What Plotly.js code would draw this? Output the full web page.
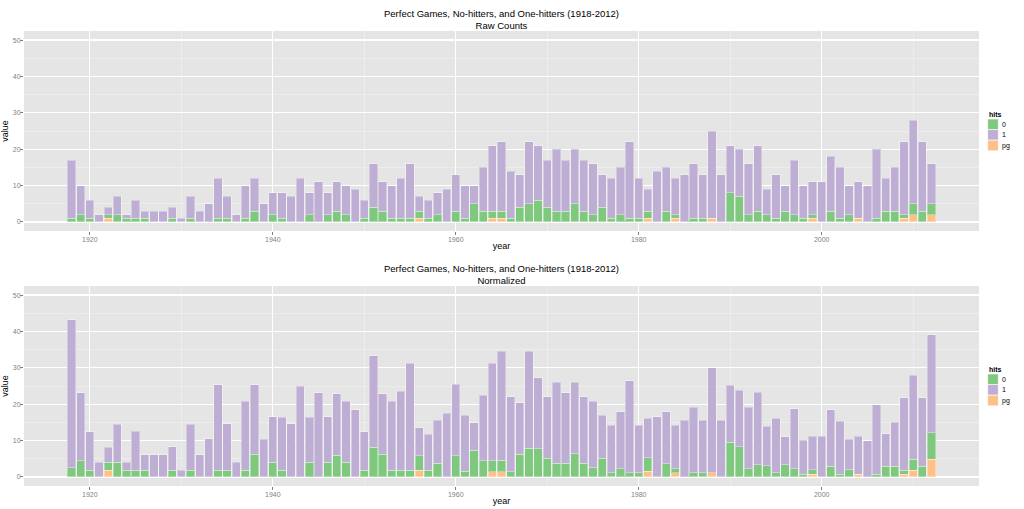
<!DOCTYPE html>
<html>
<head>
<meta charset="utf-8">
<script src="https://cdn.plot.ly/plotly-3.0.1.min.js"></script>
<style>
  html, body { margin: 0; padding: 0; background: #fff; }
  #chart { width: 1024px; height: 509px; }
</style>
</head>
<body>
<div id="chart"></div>
<script>
"use strict";

// years 1918..2012
const years = Array.from({ length: 95 }, (_, i) => 1918 + i);

// --- raw counts, one value per year ---
const rawZero = [
  1, 2, 1, 0, 1, 2, 1, 1, 1, 0, 0, 1, 0, 1, 0, 0, 1, 1, 0, 1,
  3, 0, 2, 1, 0, 0, 2, 0, 2, 3, 2, 0, 1, 4, 3, 1, 1, 1, 2, 1,
  2, 0, 3, 1, 5, 3, 2, 2, 1, 4, 5, 6, 4, 3, 3, 5, 3, 2, 4, 1,
  2, 1, 1, 2, 0, 3, 1, 0, 1, 1, 0, 0, 8, 7, 2, 3, 2, 1, 3, 2,
  1, 1, 0, 3, 1, 2, 0, 0, 1, 3, 3, 1, 3, 3, 3
];
const rawOne = [
  16, 8, 5, 2, 2, 5, 1, 5, 2, 3, 3, 3, 1, 6, 3, 5, 11, 6, 2, 9,
  9, 5, 6, 7, 7, 12, 6, 11, 6, 8, 8, 9, 5, 12, 8, 9, 11, 15, 4, 5,
  6, 9, 10, 9, 5, 12, 18, 19, 13, 9, 17, 15, 13, 17, 14, 15, 14, 14, 9, 11,
  13, 21, 11, 6, 14, 12, 10, 13, 15, 12, 24, 13, 13, 13, 14, 18, 7, 12, 7, 15,
  9, 9, 11, 15, 14, 8, 10, 10, 19, 9, 12, 20, 23, 19, 11
];
const rawPg = [
  0, 0, 0, 0, 1, 0, 0, 0, 0, 0, 0, 0, 0, 0, 0, 0, 0, 0, 0, 0,
  0, 0, 0, 0, 0, 0, 0, 0, 0, 0, 0, 0, 0, 0, 0, 0, 0, 0, 1, 0,
  0, 0, 0, 0, 0, 0, 1, 1, 0, 0, 0, 0, 0, 0, 0, 0, 0, 0, 0, 0,
  0, 0, 0, 1, 0, 0, 1, 0, 0, 0, 1, 0, 0, 0, 0, 0, 0, 0, 0, 0,
  0, 1, 0, 0, 0, 0, 1, 0, 0, 0, 0, 1, 2, 0, 2
];

// --- normalized values, one value per year ---
const normZero = [
  2.5, 4.5, 1.9, 0, 2.1, 4.0, 1.9, 1.9, 1.9, 0, 0, 1.9, 0, 1.9, 0, 0, 1.9, 1.9, 0, 1.9,
  6.2, 0, 4.0, 1.9, 0, 0, 4.0, 0, 4.0, 6.0, 4.0, 0, 1.9, 8.2, 6.2, 1.9, 1.9, 1.9, 3.9, 1.9,
  3.8, 0, 5.8, 1.6, 7.3, 4.4, 3.0, 3.2, 1.4, 6.2, 7.9, 7.8, 5.1, 3.8, 3.8, 6.4, 3.8, 2.5, 5.1, 1.1,
  2.2, 1.1, 1.1, 3.7, 0, 3.6, 1.2, 0, 1.1, 1.1, 0, 0, 9.5, 8.3, 2.3, 3.3, 3.1, 1.1, 3.3, 2.2,
  0.8, 1.2, 0, 3.0, 0.8, 2.0, 0, 0, 0.8, 2.9, 2.9, 1.1, 3.0, 2.9, 7.2
];
const normOne = [
  40.7, 18.6, 10.5, 4.0, 4.2, 10.5, 2.1, 10.7, 4.2, 6.1, 6.1, 6.4, 1.9, 12.6, 6.1, 10.5, 23.5, 12.7, 4.0, 18.9,
  19.2, 10.4, 12.6, 14.5, 14.6, 25.0, 12.4, 23.1, 12.6, 16.9, 16.8, 18.5, 10.5, 25.1, 16.7, 18.9, 21.6, 29.4, 7.7, 9.8,
  11.8, 17.5, 19.7, 15.3, 7.6, 18.0, 26.8, 29.9, 20.7, 14.2, 26.6, 19.5, 17.0, 22.2, 19.3, 19.6, 18.3, 18.3, 11.8, 13.1,
  15.7, 25.3, 13.1, 10.9, 16.6, 14.3, 11.9, 15.6, 18.1, 14.5, 28.9, 15.6, 15.7, 15.6, 16.9, 20.0, 10.9, 15.1, 7.7, 16.6,
  9.3, 9.2, 11.2, 15.5, 14.5, 8.3, 10.4, 9.9, 19.1, 9.0, 12.1, 19.9, 23.0, 18.9, 27.0
];
const normPg = [
  0, 0, 0, 0, 1.9, 0, 0, 0, 0, 0, 0, 0, 0, 0, 0, 0, 0, 0, 0, 0,
  0, 0, 0, 0, 0, 0, 0, 0, 0, 0, 0, 0, 0, 0, 0, 0, 0, 0, 1.9, 0,
  0, 0, 0, 0, 0, 0, 1.4, 1.4, 0, 0, 0, 0, 0, 0, 0, 0, 0, 0, 0, 0,
  0, 0, 0, 1.6, 0, 0, 1.1, 0, 0, 0, 1.1, 0, 0, 0, 0, 0, 0, 0, 0, 0,
  0, 0.8, 0, 0, 0, 0, 0.8, 0, 0, 0, 0, 0.8, 1.9, 0, 4.9
];

const hitLevels = ['0', '1', 'pg'];
const hitColors = { '0': '#7FC97F', '1': '#BEAED4', 'pg': '#FDC086' };
const titleMain = 'Perfect Games, No-hitters, and One-hitters (1918-2012)';
const fontFamily = '"Liberation Sans", Arial, Helvetica, sans-serif';

// plot box in pixels (margins fixed, no autoexpand)
const M = { l: 24, r: 45, t: 31, b: 23 };
const W = 1024, H = 509;
const plotW = W - M.l - M.r, plotH = H - M.t - M.b;
const px = x => (x - M.l) / plotW;
const py = y => (H - M.b - y) / plotH;

// stacking order from the bottom: pg, 0, 1
function makeTraces(zero, one, pg, xa, ya) {
  const series = [
    { name: 'pg', y: pg },
    { name: '0', y: zero },
    { name: '1', y: one }
  ];
  return series.map(s => ({
    type: 'bar',
    x: years,
    y: s.y,
    name: s.name,
    xaxis: xa,
    yaxis: ya,
    width: 0.9,
    showlegend: false,
    marker: {
      color: hitColors[s.name],
      line: { color: 'rgba(255,255,255,0.35)', width: 1 }
    }
  }));
}

const traces = [
  ...makeTraces(rawZero, rawOne, rawPg, 'x', 'y'),
  ...makeTraces(normZero, normOne, normPg, 'x2', 'y2')
];

// ggplot2 grey theme look
const xAxisBase = {
  range: [1912.8, 2017.2],
  tickvals: [1920, 1940, 1960, 1980, 2000],
  ticks: 'outside',
  ticklen: 3,
  tickcolor: '#7F7F7F',
  tickwidth: 1,
  ticklabelstandoff: -1,
  tickfont: { size: 7, color: '#7F7F7F', family: fontFamily },
  showgrid: true,
  gridcolor: '#FFFFFF',
  gridwidth: 1.2,
  minor: { tickvals: [1930, 1950, 1970, 1990, 2010], showgrid: true, gridcolor: '#F2F2F2', gridwidth: 0.6, ticks: '' },
  zeroline: false,
  showline: false,
  title: { text: 'year', font: { size: 9, color: '#000', family: fontFamily }, standoff: 0 }
};
const yAxisBase = {
  range: [-2.5, 52.5],
  tickvals: [0, 10, 20, 30, 40, 50],
  ticks: 'outside',
  ticklen: 3,
  tickcolor: '#7F7F7F',
  tickwidth: 1,
  ticklabelstandoff: -2,
  tickfont: { size: 7, color: '#7F7F7F', family: fontFamily },
  showgrid: true,
  gridcolor: '#FFFFFF',
  gridwidth: 1.2,
  minor: { tickvals: [5, 15, 25, 35, 45], showgrid: true, gridcolor: '#F2F2F2', gridwidth: 0.6, ticks: '' },
  zeroline: false,
  showline: false,
  title: { text: 'value', font: { size: 9, color: '#000', family: fontFamily }, standoff: 5 }
};

// hand-drawn legend boxes in ggplot style (key 10.6 px tall, stacked)
function legendParts(topY) {
  const shapes = [];
  const notes = [{
    text: '<b>hits</b>', xref: 'paper', yref: 'paper',
    x: px(987), y: py(topY - 5), xanchor: 'left', yanchor: 'middle',
    showarrow: false, font: { size: 7, color: '#000', family: fontFamily }
  }];
  hitLevels.forEach((lvl, i) => {
    const y0 = topY + i * 10.6;
    shapes.push({
      type: 'rect', xref: 'paper', yref: 'paper',
      x0: px(987.7), x1: px(998.3), y0: py(y0), y1: py(y0 + 10.6),
      fillcolor: hitColors[lvl],
      line: { color: 'rgba(255,255,255,0.6)', width: 1 }
    });
    notes.push({
      text: lvl, xref: 'paper', yref: 'paper',
      x: px(1000), y: py(y0 + 5.3), xanchor: 'left', yanchor: 'middle',
      showarrow: false, font: { size: 7, color: '#000', family: fontFamily }
    });
  });
  return { shapes, notes };
}
const legTop = legendParts(119);
const legBottom = legendParts(374);

const layout = {
  width: W,
  height: H,
  margin: { ...M, autoexpand: false },
  paper_bgcolor: '#FFFFFF',
  plot_bgcolor: '#E5E5E5',
  font: { family: fontFamily },
  barmode: 'stack',
  bargap: 0.1,
  showlegend: false,
  xaxis: { ...xAxisBase, anchor: 'y' },
  yaxis: { ...yAxisBase, domain: [py(231), 1], anchor: 'x' },
  xaxis2: { ...xAxisBase, anchor: 'y2' },
  yaxis2: { ...yAxisBase, domain: [0, py(286)], anchor: 'x2' },
  shapes: [...legTop.shapes, ...legBottom.shapes],
  annotations: [
    {
      text: titleMain + '<br>Raw Counts',
      xref: 'paper', yref: 'paper', x: 0.5, y: 1,
      xanchor: 'center', yanchor: 'bottom', yshift: -2,
      showarrow: false,
      font: { size: 9.5, color: '#000', family: fontFamily }
    },
    {
      text: titleMain + '<br>Normalized',
      xref: 'paper', yref: 'paper', x: 0.5, y: py(286),
      xanchor: 'center', yanchor: 'bottom', yshift: -2,
      showarrow: false,
      font: { size: 9.5, color: '#000', family: fontFamily }
    },
    ...legTop.notes,
    ...legBottom.notes
  ]
};

Plotly.newPlot('chart', traces, layout, { displayModeBar: false, staticPlot: true });
</script>
</body>
</html>
